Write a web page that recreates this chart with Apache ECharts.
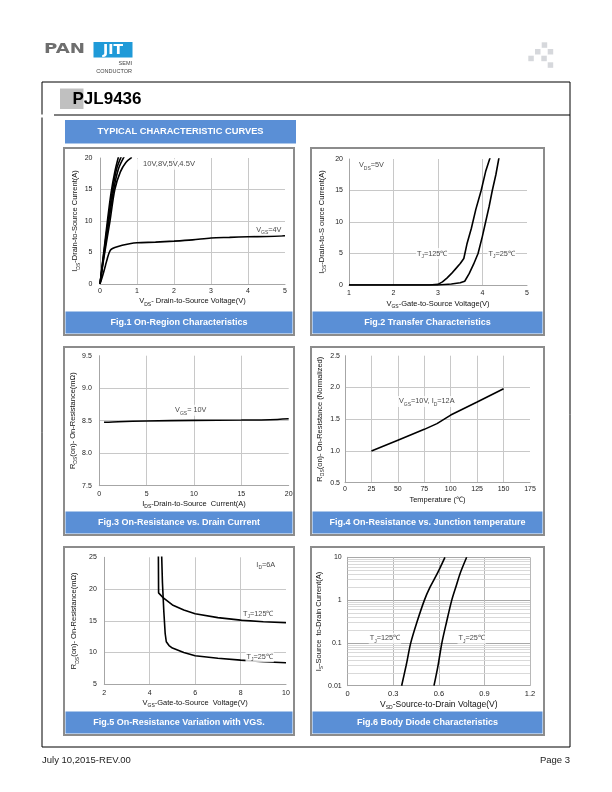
<!DOCTYPE html>
<html>
<head>
<meta charset="utf-8">
<script src="https://cdn.jsdelivr.net/npm/echarts@6/dist/echarts.min.js"></script>
<style>
body { margin: 0; background: #fff; }
#main { width: 612px; height: 792px; }
</style>
</head>
<body>
<div id="main"></div>
<script>
// Fig.1 output characteristics, [VDS, ID]
var fig1Vgs10 = [[0, 0], [0.1, 5], [0.2, 10], [0.3, 14.5], [0.4, 17.8], [0.5, 20.2]];
var fig1Vgs8 = [[0, 0], [0.1, 4.7], [0.22, 10], [0.34, 15], [0.45, 18.3], [0.58, 20.3]];
var fig1Vgs5 = [[0, 0], [0.1, 4.3], [0.24, 10], [0.37, 15], [0.5, 18.3], [0.66, 20.3]];
var fig1Vgs45 = [[0, 0], [0.1, 4], [0.27, 10], [0.4, 15], [0.55, 17.8], [0.7, 19.3], [0.86, 20.1]];
var fig1Vgs4 = [[0, 0], [0.05, 0.9], [0.1, 1.9], [0.15, 3], [0.2, 4.1], [0.25, 5], [0.3, 5.5], [0.4, 5.8],
    [0.6, 6.15], [0.8, 6.4], [1, 6.55], [1.5, 6.65], [2, 6.8], [2.5, 7.0], [3, 7.3], [3.5, 7.4],
    [4, 7.5], [4.5, 7.55], [5, 7.65]];

// Fig.2 transfer characteristics, [VGS, ID]
var fig2Tj125 = [[1, 0], [2, 0], [2.8, 0], [3, 0.1], [3.1, 0.5], [3.2, 1.1], [3.3, 1.8], [3.4, 2.6],
    [3.5, 3.4], [3.58, 4.2], [3.65, 6.5], [3.75, 9], [3.85, 12], [3.97, 15], [4.07, 18], [4.17, 20.2]];
var fig2Tj25 = [[1, 0], [3, 0], [3.3, 0.15], [3.5, 0.35], [3.6, 0.6], [3.7, 1.8], [3.8, 3.3], [3.9, 5],
    [4.0, 7.8], [4.07, 10], [4.15, 12.5], [4.22, 15], [4.3, 17.5], [4.37, 20.2]];

// Fig.3 RDS(on) vs ID, [ID, mOhm]
var fig3Vgs10 = [[0.5, 8.475], [2, 8.485], [5, 8.495], [10, 8.505], [15, 8.51], [18, 8.515], [20, 8.53]];

// Fig.4 normalized RDS(on) vs temperature
var fig4Norm = [[25, 1.0], [50, 1.17], [75, 1.34], [87, 1.43], [100, 1.565], [125, 1.77], [150, 1.98]];

// Fig.5 RDS(on) vs VGS, [VGS, mOhm]
var fig5Tj125 = [[4.38, 26], [4.39, 19.4], [4.6, 18.6], [5, 17.5], [5.5, 16.7], [6, 16.1], [7, 15.5],
    [8, 15.1], [9, 14.85], [10, 14.7]];
var fig5Tj25 = [[4.52, 26], [4.56, 21], [4.62, 16.5], [4.68, 13], [4.73, 11.7], [4.85, 11.1], [5, 10.7],
    [5.5, 10], [6, 9.5], [7, 9.1], [8, 8.8], [9, 8.55], [10, 8.4]];

// Fig.6 body diode, [VSD, IS]
var fig6Tj125 = [[0.355, 0.01], [0.385, 0.03], [0.415, 0.1], [0.455, 0.3], [0.505, 1], [0.542, 2],
    [0.59, 4.2], [0.64, 10]];
var fig6Tj25 = [[0.568, 0.01], [0.595, 0.03], [0.62, 0.1], [0.65, 0.3], [0.685, 1], [0.715, 2.2],
    [0.74, 4.2], [0.783, 10]];

// minor log grid lines of fig.6
var fig6Minor = [];
[0.01, 0.1, 1].forEach(function (d) {
    for (var k = 2; k <= 9; k++) fig6Minor.push(+(k * d).toPrecision(2));
});

var captions = [
    'Fig.1 On-Region Characteristics',
    'Fig.2 Transfer Characteristics',
    'Fig.3 On-Resistance vs. Drain Current',
    'Fig.4 On-Resistance vs. Junction temperature',
    'Fig.5 On-Resistance Variation with VGS.',
    'Fig.6 Body Diode Characteristics'
];

var FONT = 'Liberation Sans';
var BLUE = '#5a8fd6';
var sub = { s: { fontSize: 5, lineHeight: 6, verticalAlign: 'bottom' } };

function xAx(idx, min, max, step, name, gap, margin, o) {
    o = o || {};
    return {
        gridIndex: idx, type: 'value', min: min, max: max, interval: step,
        name: name, nameLocation: 'middle', nameGap: gap,
        nameTextStyle: { fontSize: o.nameSize || 7.5, lineHeight: 11, color: '#111', rich: sub },
        axisLine: { show: true, onZero: false, lineStyle: { color: '#a6a6a6', width: 1 } },
        axisTick: { show: false },
        axisLabel: { fontSize: o.labelSize || 7, color: '#222', margin: margin, formatter: o.fmt },
        splitLine: { show: true, showMinLine: false, showMaxLine: !!o.maxLine,
            lineStyle: { color: o.gridColor || '#c8c8c8', width: 1 } }
    };
}

function yAx(idx, min, max, step, name, gap, margin, o) {
    var a = xAx(idx, min, max, step, name, gap, margin, o);
    if (o && o.log) {
        a.type = 'log';
        a.logBase = 10;
        delete a.interval;
    }
    return a;
}

function curve(idx, data, smooth) {
    return {
        type: 'line', xAxisIndex: idx, yAxisIndex: idx, data: data,
        showSymbol: false, symbol: 'none', smooth: smooth || false,
        lineStyle: { color: '#000', width: 1.6 }, z: 3, silent: true
    };
}

function notes(idx, items) {
    return {
        type: 'scatter', xAxisIndex: idx, yAxisIndex: idx, symbolSize: 1, z: 5, silent: true,
        itemStyle: { color: 'rgba(0,0,0,0)' },
        label: { show: true, position: 'inside', formatter: '{b}', fontSize: 7.3, lineHeight: 11,
            color: '#111', backgroundColor: '#fff', padding: [0, 1], rich: sub },
        data: items
    };
}

function fixed1(v) { return v.toFixed(1); }

// page decoration
var graphics = [];
function line(x1, y1, x2, y2, color, w) {
    graphics.push({ type: 'line', silent: true, shape: { x1: x1, y1: y1, x2: x2, y2: y2 },
        style: { stroke: color, lineWidth: w } });
}
function rect(x, y, w, h, fill, stroke, lw) {
    graphics.push({ type: 'rect', silent: true, shape: { x: x, y: y, width: w, height: h },
        style: { fill: fill, stroke: stroke || null, lineWidth: lw || 0 } });
}
function text(x, y, s, font, fill, align, extra) {
    var g = { type: 'text', silent: true, x: x, y: y, z: 10,
        style: { text: s, font: font, fill: fill, align: align, textAlign: align,
            verticalAlign: 'middle', textVerticalAlign: 'middle' } };
    if (extra) Object.assign(g, extra);
    graphics.push(g);
}

// logo
text(44, 49.5, 'PAN', 'bold 14px "DejaVu Sans"', '#6e6e6e', 'left', { scaleX: 1.3 });
rect(93.5, 42, 39, 15.5, '#1f9ad8');
text(113, 50, 'JIT', 'bold 14px "DejaVu Sans"', '#fff', 'center');
text(132, 63.5, 'SEMI', '5.5px "Liberation Sans"', '#444', 'right');
text(132, 71.5, 'CONDUCTOR', '5.5px "Liberation Sans"', '#444', 'right');
[[541.7, 42.3], [535, 49], [547.7, 49], [528.3, 55.7], [541.3, 55.7], [547.7, 62.3]].forEach(function (p) {
    rect(p[0], p[1], 5.5, 5.5, '#d6d8dc');
});

// frame
line(42, 82, 570, 82, '#000', 1);
line(42, 82, 42, 114.5, '#000', 1);
line(42, 117.5, 42, 747, '#000', 1);
line(570, 82, 570, 747, '#000', 1);
line(42, 747, 570, 747, '#000', 1);
line(54, 115, 570, 115, '#000', 1);

// title
rect(60, 88.5, 23.5, 20.5, '#c0c0c0');
text(72.5, 99.5, 'PJL9436', 'bold 17px "Liberation Sans"', '#000', 'left');

// banner
rect(65, 120, 231, 23.5, BLUE);
text(180.5, 131.5, 'TYPICAL CHARACTERISTIC CURVES', 'bold 9.3px "Liberation Sans"', '#fff', 'center');

// panels
var panels = [[64, 148, 230, 187], [311, 148, 233, 187], [64, 347, 230, 188],
    [311, 347, 233, 188], [64, 547, 230, 188], [311, 547, 233, 188]];
panels.forEach(function (p, i) {
    rect(p[0], p[1], p[2], p[3], 'none', '#8c8c8c', 2);
    rect(p[0] + 1.5, p[1] + p[3] - 23.5, p[2] - 3, 22, BLUE);
    text(p[0] + p[2] / 2, p[1] + p[3] - 12.5, captions[i], 'bold 9px "Liberation Sans"', '#fff', 'center');
});

// footer
text(42, 760.5, 'July 10,2015-REV.00', '9.5px "Liberation Sans"', '#222', 'left');
text(570, 760.5, 'Page 3', '9.5px "Liberation Sans"', '#222', 'right');

var myChart = echarts.init(document.getElementById('main'), null, { renderer: 'canvas' });

var option = {
    backgroundColor: '#fff',
    animation: false,
    textStyle: { fontFamily: FONT },
    graphic: graphics,
    grid: [
        { left: 100, top: 158, width: 185, height: 126 },
        { left: 349, top: 159, width: 178, height: 126 },
        { left: 99.3, top: 355.7, width: 189.4, height: 130 },
        { left: 345, top: 355.7, width: 185, height: 127 },
        { left: 104.3, top: 557.3, width: 181.7, height: 127 },
        { left: 347.7, top: 557.3, width: 182.3, height: 128.4 }
    ],
    xAxis: [
        xAx(0, 0, 5, 1, 'V{s|DS}- Drain-to-Source Voltage(V)', 7, 4),
        xAx(1, 1, 5, 1, 'V{s|GS}-Gate-to-Source Voltage(V)', 13, 5),
        xAx(2, 0, 20, 5, 'I{s|DS}-Drain-to-Source  Current(A)', 12.5, 5),
        xAx(3, 0, 175, 25, 'Temperature (\u2103)', 12, 3),
        xAx(4, 2, 10, 2, 'V{s|GS}-Gate-to-Source  Voltage(V)', 13, 5),
        xAx(5, 0, 1.2, 0.3, 'V{s|SD}-Source-to-Drain Voltage(V)', 12, 4.5,
            { nameSize: 8.5, labelSize: 7.5, maxLine: true, gridColor: '#b8b8b8',
              fmt: function (v) { return v === 0 ? '0' : v.toFixed(1); } })
    ],
    yAxis: [
        yAx(0, 0, 20, 5, 'I{s|DS}-Drain-to-Source Current(A)', 19, 7.5),
        yAx(1, 0, 20, 5, 'I{s|DS}-Drain-to-S ource Current(A)', 22, 6),
        yAx(2, 7.5, 9.5, 0.5, 'R{s|DS}(on)- On-Resistance(m\u03a9)', 20.5, 7.5, { fmt: fixed1 }),
        yAx(3, 0.5, 2.5, 0.5, 'R{s|DS}(on)- On-Resistance (Normalized)', 20, 5, { fmt: fixed1 }),
        yAx(4, 5, 25, 5, 'R{s|DS}(on)- On-Resistance(m\u03a9)', 24.5, 7.5),
        yAx(5, 0.01, 10, null, 'I{s|S}-Source  to-Drain Current(A)', 23, 6,
            { log: true, maxLine: true, gridColor: '#a8a8a8',
              fmt: function (v) { return String(+v.toPrecision(2)); } })
    ],
    series: [
        curve(0, fig1Vgs10, 0.3), curve(0, fig1Vgs8, 0.3), curve(0, fig1Vgs5, 0.3),
        curve(0, fig1Vgs45, 0.3), curve(0, fig1Vgs4, 0.3),
        notes(0, [
            { name: '10V,8V,5V,4.5V', value: [1.0, 19.0], label: { align: 'left', padding: [0, 6, 0, 6], fontSize: 7.6 } },
            { name: 'V{s|GS}=4V', value: [4.93, 8.6], label: { align: 'right' } }
        ]),
        curve(1, fig2Tj125), curve(1, fig2Tj25),
        notes(1, [
            { name: 'V{s|DS}=5V', value: [1.2, 19.0], label: { align: 'left' } },
            { name: 'T{s|J}=125\u2103', value: [2.87, 5.0] },
            { name: 'T{s|J}=25\u2103', value: [4.43, 5.0] }
        ]),
        curve(2, fig3Vgs10, 0.3),
        notes(2, [{ name: 'V{s|GS}= 10V', value: [9.66, 8.66] }]),
        curve(3, fig4Norm),
        notes(3, [{ name: 'V{s|GS}=10V, I{s|D}=12A', value: [77.3, 1.78] }]),
        curve(4, fig5Tj125), curve(4, fig5Tj25),
        notes(4, [
            { name: 'I{s|D}=6A', value: [9.11, 23.8] },
            { name: 'T{s|J}=125\u2103', value: [8.78, 16.07] },
            { name: 'T{s|J}=25\u2103', value: [8.84, 9.35] }
        ]),
        {
            type: 'line', xAxisIndex: 5, yAxisIndex: 5, data: [], z: 1, silent: true,
            markLine: {
                silent: true, z: 1, symbol: ['none', 'none'], label: { show: false }, animation: false,
                lineStyle: { color: '#d9d9d9', width: 1, type: 'solid' },
                data: fig6Minor.map(function (v) { return { yAxis: v }; })
            }
        },
        curve(5, fig6Tj125, 0.3), curve(5, fig6Tj25, 0.3),
        notes(5, [
            { name: 'T{s|J}=125\u2103', value: [0.245, 0.128] },
            { name: 'T{s|J}=25\u2103', value: [0.816, 0.128] }
        ])
    ]
};

myChart.setOption(option);
</script>
</body>
</html>
